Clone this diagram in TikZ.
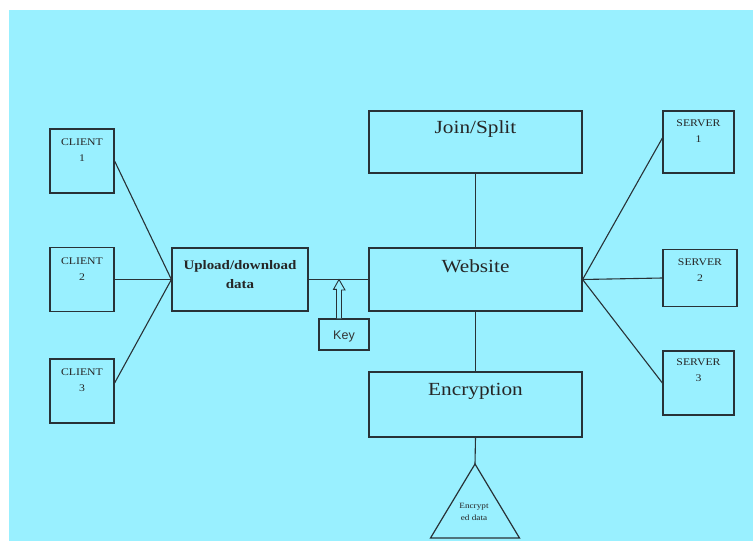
\documentclass[tikz,border=0pt]{standalone}
\usepackage{fontspec}
\setmainfont{Liberation Serif}
\newfontfamily\wideserif[FakeStretch=1.15]{Liberation Serif}
\newfontfamily\sansf{Liberation Sans}
\definecolor{bgc}{RGB}{153,240,255}
\definecolor{ln}{RGB}{40,50,55}
\begin{document}
\begin{tikzpicture}[x=1pt,y=-1pt,
  box/.style={draw=ln,line width=1.2pt,inner sep=0pt,fill=bgc},
  conn/.style={draw=ln,line width=1.1pt},
  lab/.style={anchor=north,inner sep=0pt,align=center,text=black!85},
  small/.style={lab,font=\wideserif\fontsize{10.2}{15.5}\selectfont},
  big/.style={lab,font=\wideserif\fontsize{18.5}{20}\selectfont}]
\useasboundingbox (0,0) rectangle (753,541);
\fill[bgc] (9,10) rectangle (753,541);
% clients
\node[box,minimum width=64pt,minimum height=64pt] (c1) at (82,161) {};
\node[box,minimum width=64pt,minimum height=64pt] (c2) at (82,279.5) {};
\node[box,minimum width=64pt,minimum height=64pt] (c3) at (82,391) {};
\node[small] (c1t) at (82,139) {CLIENT\\1};
\node[small] (c2t) at (82,258) {CLIENT\\2};
\node[small] (c3t) at (82,369) {CLIENT\\3};
% upload
\node[box,minimum width=136pt,minimum height=63pt] (up) at (240,279.5) {};
\node[lab,font=\wideserif\fontsize{13}{19}\selectfont\bfseries] (upt) at (240,260) {Upload/download\\data};
% key
\node[box,minimum width=50pt,minimum height=31pt] (key) at (344,334.5) {};
\node[inner sep=0pt,font=\sansf\fontsize{12.5}{14}\selectfont,text=black!80] (keyt) at (344,336) {Key};
% central column
\node[box,minimum width=213pt,minimum height=62pt] (join) at (475.5,142) {};
\node[big] (joint) at (475.5,120) {Join/Split};
\node[box,minimum width=213pt,minimum height=63pt] (web) at (475.5,279.5) {};
\node[big] (webt) at (475.5,259) {Website};
\node[box,minimum width=213pt,minimum height=65pt] (enc) at (475.5,404.5) {};
\node[big] (enct) at (475.5,383) {Encryption};
% servers
\node[box,minimum width=71pt,minimum height=62pt] (s1) at (698.5,142) {};
\node[box,minimum width=74pt,minimum height=57pt] (s2) at (700,278) {};
\node[box,minimum width=71pt,minimum height=64pt] (s3) at (698.5,383) {};
\node[small] (s1t) at (698.5,120) {SERVER\\1};
\node[small] (s2t) at (700,259) {SERVER\\2};
\node[small] (s3t) at (698.5,359) {SERVER\\3};
% triangle
\coordinate (tA) at (475,464);
\coordinate (tL) at (430.5,538);
\coordinate (tR) at (519.5,538);
\draw[ln,line width=1.2pt,line join=miter] (tA) -- (tL) -- (tR) -- cycle;
\node[inner sep=0pt,align=center,font=\wideserif\fontsize{8}{12}\selectfont,text=black!85] (tt) at (474,512) {Encrypt\\ed data};
% connectors
\draw[conn] (c1.east) -- (up.west);
\draw[conn] (c2.east) -- (up.west);
\draw[conn] ([yshift=8pt]c3.east) -- (up.west);
\draw[conn] (up.east) -- (web.west);
\draw[conn] (join.south) -- (web.north);
\draw[conn] (web.south) -- (enc.north);
\draw[conn] (enc.south) -- (tA);
\draw[conn] (web.east) -- ([yshift=4pt]s1.west);
\draw[conn] (web.east) -- (s2.west);
\draw[conn] (web.east) -- (s3.west);
% key arrow (hollow double arrow)
\coordinate (kb) at ([xshift=-5pt]key.north);
\draw[ln,line width=0.9pt,fill=bgc,line join=miter]
  ([xshift=-2.5pt]kb) -- ++(0,-29) -- ++(-3,0) -- (339,279.5) -- (345,290) -- ++(-3.5,0) -- ([xshift=2.5pt]kb);
\end{tikzpicture}
\end{document}
